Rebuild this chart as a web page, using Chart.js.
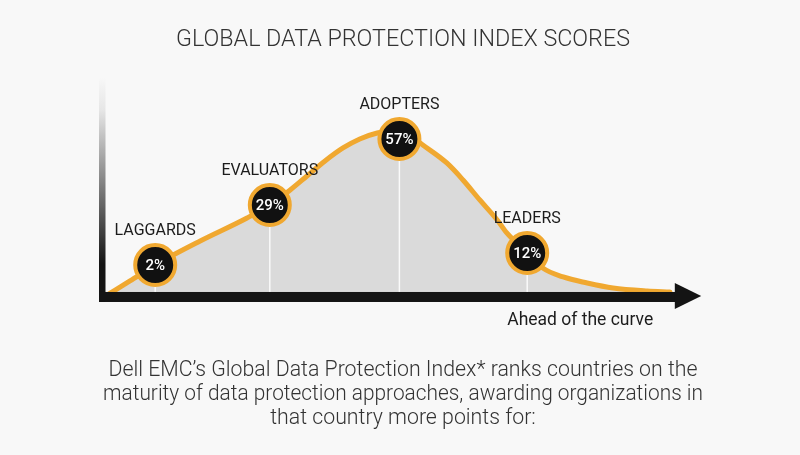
<!DOCTYPE html>
<html>
<head>
<meta charset="utf-8">
<script src="https://cdn.jsdelivr.net/npm/chart.js@4.4.0/dist/chart.umd.min.js"></script>
<style>
  html, body { margin: 0; padding: 0; background: #f8f8f8; }
  #wrap { width: 800px; height: 455px; }
</style>
</head>
<body>
<div id="wrap"><canvas id="c" width="800" height="455"></canvas></div>
<script>
// ---- data ----
const stageLabels = ['LAGGARDS', 'EVALUATORS', 'ADOPTERS', 'LEADERS'];
const stageShares = [2, 29, 57, 12];           // % shown in each circle
const stagePosX   = [8.7, 27.8, 49.4, 70.7];   // position along maturity axis
const stagePosY   = [16, 46, 79, 22];          // height of marker on curve
const curveX = [1, 4.5, 8.7, 16.2, 24, 27.8, 31.2, 34, 37, 40, 42.8, 45.7, 48.2, 50.8, 53.3, 57.3, 60, 62.8, 65.7, 67.3, 70.7, 73.3, 76.7, 80.7, 85, 90.7, 94.5];
const curveY = [1.5, 8, 16, 28, 39.5, 46, 53.5, 60.5, 68, 74.5, 79, 82, 83, 81.5, 76, 67, 58.5, 48.5, 38.5, 32, 22, 14.5, 10, 7, 4.5, 3, 2.5];
const titleText = 'GLOBAL DATA PROTECTION INDEX SCORES';
const captionLines = [
  'Dell EMC\u2019s Global Data Protection Index* ranks countries on the',
  'maturity of data protection approaches, awarding organizations in',
  'that country more points for:'
];
const axisLabel = 'Ahead of the curve';

// ---- styles ----
const ORANGE = '#F0A830';
const BG = '#f8f8f8';

const curvePoints = curveX.map((x, i) => ({ x, y: curveY[i] }));
const stagePoints = stagePosX.map((x, i) => ({ x, y: stagePosY[i] }));

const bgPlugin = {
  id: 'bg',
  beforeDraw(chart) {
    const { ctx, width, height } = chart;
    ctx.save();
    ctx.fillStyle = BG;
    ctx.fillRect(0, 0, width, height);
    ctx.restore();
  }
};

const dropLines = {
  id: 'dropLines',
  afterDatasetDraw(chart, args) {
    if (args.index !== 1) return;
    const { ctx, scales: { x, y } } = chart;
    const y0 = y.getPixelForValue(0);
    ctx.save();
    ctx.strokeStyle = 'rgba(255,255,255,0.85)';
    ctx.lineWidth = 1.5;
    stagePoints.forEach(p => {
      const px = x.getPixelForValue(p.x);
      const py = y.getPixelForValue(p.y) + 22;
      ctx.beginPath();
      ctx.moveTo(px, py);
      ctx.lineTo(px, y0 - 4);
      ctx.stroke();
    });
    ctx.restore();
  }
};

const decorations = {
  id: 'decorations',
  afterDatasetsDraw(chart) {
    const { ctx, chartArea, scales: { x, y } } = chart;
    const y0 = y.getPixelForValue(0);
    const x0 = x.getPixelForValue(0);
    ctx.save();
    // vertical axis with fade
    const g = ctx.createLinearGradient(0, chartArea.top, 0, y0);
    g.addColorStop(0, 'rgba(20,20,20,0)');
    g.addColorStop(0.15, 'rgba(20,20,20,0.08)');
    g.addColorStop(0.85, 'rgba(20,20,20,1)');
    g.addColorStop(1, 'rgba(20,20,20,1)');
    ctx.fillStyle = g;
    ctx.fillRect(x0 - 4, chartArea.top, 6.5, y0 - chartArea.top + 5);
    // horizontal axis bar + arrow
    ctx.fillStyle = '#141414';
    const barEnd = x.getPixelForValue(95.5);
    ctx.fillRect(x0 - 4, y0 - 5, barEnd - (x0 - 4), 10);
    const base = x.getPixelForValue(95.3);
    const tip = x.getPixelForValue(99.7);
    ctx.beginPath();
    ctx.moveTo(base, y0 - 14);
    ctx.lineTo(tip, y0 - 1);
    ctx.lineTo(base, y0 + 12);
    ctx.closePath();
    ctx.fill();
    // axis label
    ctx.fillStyle = '#1c1c1c';
    ctx.font = '400 17.5px Roboto';
    ctx.textAlign = 'right';
    ctx.textBaseline = 'middle';
    ctx.fillText(axisLabel, x.getPixelForValue(91.7), y0 + 24);

    // circle texts and stage labels
    const meta = chart.getDatasetMeta(0);
    meta.data.forEach((el, i) => {
      ctx.fillStyle = '#ffffff';
      ctx.font = '500 15px Roboto';
      ctx.textAlign = 'center';
      ctx.textBaseline = 'middle';
      ctx.fillText(stageShares[i] + '%', el.x, el.y + 1);
      ctx.fillStyle = '#1c1c1c';
      ctx.font = '400 16px Roboto';
      ctx.fillText(stageLabels[i], el.x, el.y - 34);
    });
    ctx.restore();
  }
};

new Chart(document.getElementById('c'), {
  type: 'line',
  data: {
    datasets: [
      {
        type: 'scatter',
        label: 'Stages',
        data: stagePoints,
        order: 0,
        pointRadius: 20,
        pointHoverRadius: 20,
        pointBorderWidth: 4,
        pointHoverBorderWidth: 4,
        pointBackgroundColor: '#111111',
        pointBorderColor: ORANGE,
        showLine: false
      },
      {
        label: 'Curve',
        data: curvePoints,
        order: 1,
        borderColor: ORANGE,
        borderWidth: 5,
        backgroundColor: '#dadada',
        fill: 'origin',
        pointRadius: 0,
        pointHoverRadius: 0,
        cubicInterpolationMode: 'monotone',
        borderCapStyle: 'round'
      }
    ]
  },
  options: {
    responsive: false,
    animation: false,
    events: [],
    layout: { padding: { left: 103, right: 97, top: 0, bottom: 0 } },
    scales: {
      x: { type: 'linear', min: 0, max: 100, display: false },
      y: { type: 'linear', min: 0, max: 110, display: false }
    },
    plugins: {
      legend: { display: false },
      tooltip: { enabled: false },
      title: {
        display: true,
        text: titleText,
        color: '#333333',
        font: { family: 'Roboto', size: 23.3, weight: 300, lineHeight: 1.2 },
        padding: { top: 26, bottom: 23 }
      },
      subtitle: {
        display: true,
        position: 'bottom',
        text: captionLines,
        color: '#333333',
        font: { family: 'Roboto', size: 21.3, weight: 300, lineHeight: 1.127 },
        padding: { top: 62, bottom: 24 }
      }
    }
  },
  plugins: [bgPlugin, dropLines, decorations]
});
</script>
</body>
</html>
